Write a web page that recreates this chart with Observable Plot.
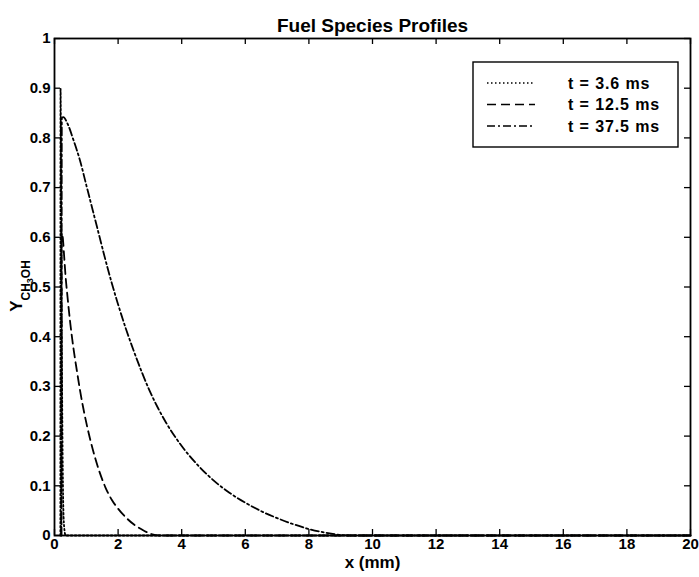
<!DOCTYPE html>
<html>
<head>
<meta charset="utf-8">
<script src="https://cdn.jsdelivr.net/npm/d3@7"></script>
<script src="https://cdn.jsdelivr.net/npm/@observablehq/plot@0.6"></script>
<style>
  body { margin: 0; background: #fff; }
  #chart { width: 699px; height: 577px; }
</style>
</head>
<body>
<div id="chart"></div>
<script>
const title = "Fuel Species Profiles";
const xLabel = "x (mm)";
const yLabelMain = "Y";
const yLabelSub = ["CH", "3", "OH"];
const seriesNames = ["t = 3.6 ms", "t = 12.5 ms", "t = 37.5 ms"];
const seriesDash = ["1.5,2.5", "9,5", "8,3,2,3"];

const xTicks = [0, 2, 4, 6, 8, 10, 12, 14, 16, 18, 20];
const yTicks = [0, 0.1, 0.2, 0.3, 0.4, 0.5, 0.6, 0.7, 0.8, 0.9, 1];

// t = 3.6 ms (dotted)
const x36 = [0.185, 0.19, 0.22, 0.25, 0.27, 0.30, 0.35, 20];
const y36 = [0, 0.90, 0.50, 0.20, 0.08, 0.02, 0, 0];
// t = 12.5 ms (dashed)
const x125 = [0.21, 0.22, 0.26, 0.30, 0.35, 0.40, 0.50, 0.60, 0.70, 0.80, 0.90, 1.00, 1.20, 1.40, 1.60, 1.80, 2.00, 2.25, 2.50, 2.75, 3.00, 3.30, 20];
const y125 = [0, 0.61, 0.60, 0.565, 0.52, 0.486, 0.425, 0.375, 0.333, 0.293, 0.258, 0.227, 0.174, 0.131, 0.097, 0.072, 0.054, 0.036, 0.022, 0.012, 0.004, 0, 0];
// t = 37.5 ms (dash-dot)
const x375 = [0.22, 0.23, 0.28, 0.40, 0.60, 0.80, 1.00, 1.20, 1.40, 1.60, 1.80, 2.00, 2.25, 2.50, 2.75, 3.00, 3.25, 3.50, 4.00, 4.50, 5.00, 5.50, 6.00, 6.50, 7.00, 7.50, 8.00, 8.50, 9.00, 9.30, 20];
const y375 = [0, 0.84, 0.842, 0.83, 0.795, 0.755, 0.705, 0.655, 0.605, 0.555, 0.508, 0.465, 0.415, 0.37, 0.328, 0.29, 0.257, 0.228, 0.18, 0.142, 0.111, 0.086, 0.066, 0.049, 0.035, 0.023, 0.013, 0.006, 0.001, 0, 0];

const seriesX = [x36, x125, x375];
const seriesY = [y36, y125, y375];

const W = 699, H = 577;
const mL = 54, mR = 9, mT = 38, mB = 42;
const innerW = W - mL - mR, innerH = H - mT - mB;
const tickLen = 6;
const font = "'Liberation Sans', Arial, Helvetica, sans-serif";

const rows = [];
seriesNames.forEach((name, i) => {
  seriesX[i].forEach((xv, j) => rows.push({series: name, x: xv, y: seriesY[i][j], k: i}));
});

const lineMarks = seriesNames.map((name, i) =>
  Plot.line(rows.filter(d => d.k === i), {
    x: "x", y: "y", stroke: "black", strokeWidth: 1.8,
    strokeDasharray: seriesDash[i], curve: "monotone-x"
  })
);

const plot = Plot.plot({
  width: W, height: H,
  marginLeft: mL, marginRight: mR, marginTop: mT, marginBottom: mB,
  style: {fontFamily: font, fontWeight: "bold", background: "white", color: "black"},
  x: {domain: [0, 20], axis: null},
  y: {domain: [0, 1], axis: null},
  marks: [
    ...lineMarks,
    Plot.tickX(xTicks, {x: d => d, insetTop: innerH - tickLen, stroke: "black", strokeWidth: 1.3}),
    Plot.tickX(xTicks, {x: d => d, insetBottom: innerH - tickLen, stroke: "black", strokeWidth: 1.3}),
    Plot.tickY(yTicks, {y: d => d, insetRight: innerW - tickLen, stroke: "black", strokeWidth: 1.3}),
    Plot.tickY(yTicks, {y: d => d, insetLeft: innerW - tickLen, stroke: "black", strokeWidth: 1.3}),
    Plot.frame({stroke: "black", strokeWidth: 1.8}),
    Plot.text(xTicks, {x: d => d, text: d => String(d), frameAnchor: "bottom", dy: 13, fontSize: 15, fontWeight: "bold", fill: "black"}),
    Plot.text(yTicks, {y: d => d, text: d => String(d), frameAnchor: "left", dx: -4, textAnchor: "end", fontSize: 15, fontWeight: "bold", fill: "black"}),
    Plot.text([title], {text: d => d, frameAnchor: "top", dy: -20, fontSize: 19, fontWeight: "bold", fill: "black"}),
    Plot.text([xLabel], {text: d => d, frameAnchor: "bottom", dy: 32, fontSize: 17, fontWeight: "bold", fill: "black"})
  ]
});

document.getElementById("chart").appendChild(plot);

const svg = d3.select(plot);

// Y label with subscript
const yl = svg.append("text")
  .attr("transform", "translate(22,286) rotate(-90)")
  .attr("text-anchor", "middle")
  .attr("font-family", font)
  .attr("font-weight", "bold")
  .attr("fill", "black");
yl.append("tspan").attr("font-size", 17).text(yLabelMain);
yl.append("tspan").attr("font-size", 12).attr("dy", 8).text(yLabelSub[0]);
yl.append("tspan").attr("font-size", 9).attr("dy", 3).text(yLabelSub[1]);
yl.append("tspan").attr("font-size", 12).attr("dy", -3).text(yLabelSub[2]);

// Legend
const lg = svg.append("g");
lg.append("rect")
  .attr("x", 473).attr("y", 62).attr("width", 205).attr("height", 85)
  .attr("fill", "white").attr("stroke", "black").attr("stroke-width", 1.4);
seriesNames.forEach((name, i) => {
  const cy = 83 + i * 21.5;
  lg.append("line")
    .attr("x1", 487).attr("x2", 535).attr("y1", cy).attr("y2", cy)
    .attr("stroke", "black").attr("stroke-width", 1.6)
    .attr("stroke-dasharray", seriesDash[i]);
  lg.append("text")
    .attr("x", 568).attr("y", cy).attr("dy", "0.35em")
    .attr("text-anchor", "start")
    .attr("font-family", font).attr("font-size", 16).attr("font-weight", "bold")
    .attr("letter-spacing", "0.9px")
    .attr("fill", "black")
    .text(name);
});
</script>
</body>
</html>
